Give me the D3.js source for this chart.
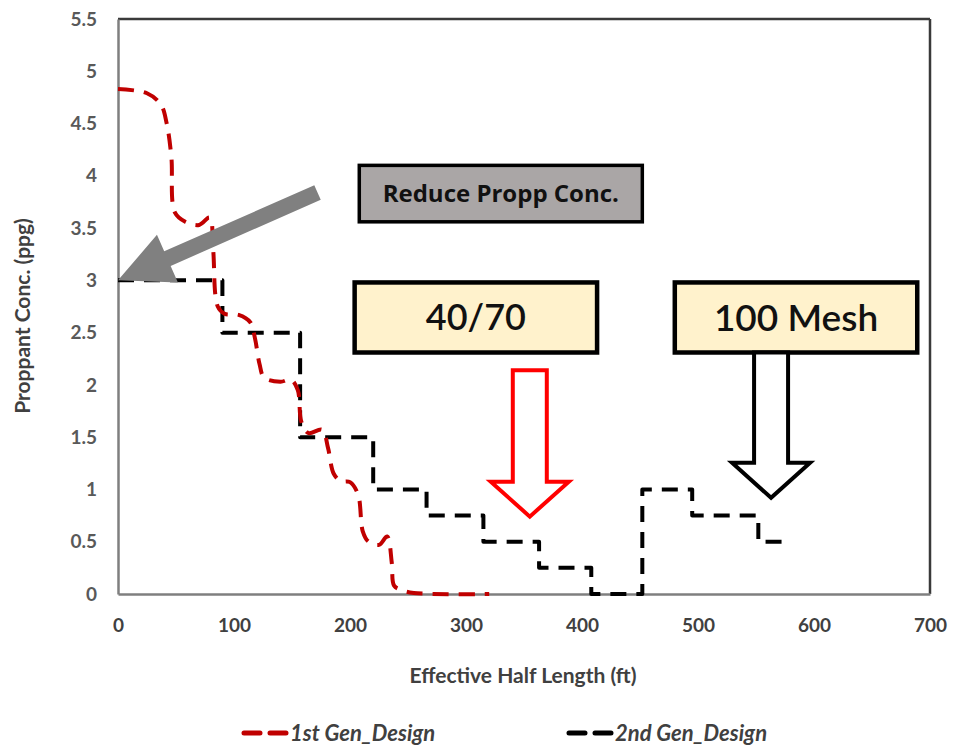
<!DOCTYPE html>
<html>
<head>
<meta charset="utf-8">
<script src="https://cdn.jsdelivr.net/npm/d3@7"></script>
<style>
  html, body { margin: 0; padding: 0; background: #fff; }
  svg { display: block; }
</style>
</head>
<body>
<svg id="chart" width="956" height="746"></svg>
<script>
// ---- data ----
// 1st generation design: proppant concentration along the fracture (smoothed line)
const gen1X = [0, 25, 37, 42, 46, 49, 58, 70, 79, 82, 86, 92, 104, 114, 118, 122, 126, 140, 149, 155, 158, 164, 176, 181, 186, 192, 200, 207, 211, 216, 225, 232, 236, 238, 244, 255, 320];
const gen1Y = [4.83, 4.79, 4.68, 4.5, 4.18, 3.65, 3.56, 3.53, 3.6, 3.3, 2.75, 2.68, 2.67, 2.6, 2.45, 2.2, 2.07, 2.03, 2.05, 1.95, 1.65, 1.54, 1.57, 1.4, 1.15, 1.08, 1.07, 0.95, 0.6, 0.5, 0.47, 0.55, 0.3, 0.08, 0.04, 0.01, 0];

// 2nd generation design: stepped schedule
const gen2X = [0, 90, 90, 157, 157, 220, 220, 266, 266, 315, 315, 363, 363, 408, 408, 452, 452, 495, 495, 552, 552, 580];
const gen2Y = [3, 3, 2.5, 2.5, 1.5, 1.5, 1, 1, 0.75, 0.75, 0.5, 0.5, 0.25, 0.25, 0, 0, 1, 1, 0.75, 0.75, 0.5, 0.5];

const xTicks = [0, 100, 200, 300, 400, 500, 600, 700];
const yTicks = [0, 0.5, 1, 1.5, 2, 2.5, 3, 3.5, 4, 4.5, 5, 5.5];
const seriesNames = ["1st Gen_Design", "2nd Gen_Design"];

// callouts, positioned in data units
const noteLabels = ["Reduce Propp Conc.", "40/70", "100 Mesh"];
const noteBoxX = [[208, 452], [204, 413], [480, 689]];     // ft
const noteBoxY = [[4.1, 3.56], [2.98, 2.31], [2.98, 2.31]]; // ppg
const reduceArrowFrom = [172, 3.84];
const reduceArrowTo = [0, 3.0];
const hollowArrowX = [355, 563];          // ft, arrow centre line
const hollowArrowTop = [2.14, 2.31];      // ppg
const hollowArrowTip = [0.74, 0.92];      // ppg
const hollowArrowColors = ["#ff0000", "#000000"];

// ---- layout ----
const svg = d3.select("#chart");
const plotL = 118, plotR = 930, plotT = 19, plotB = 594;

const x = d3.scaleLinear().domain([0, 700]).range([plotL, plotR]);
const y = d3.scaleLinear().domain([0, 5.5]).range([plotB, plotT]);

const tickFont = "Lato, 'Open Sans', sans-serif";

// frame
svg.append("line").attr("x1", plotL).attr("x2", plotR).attr("y1", plotT).attr("y2", plotT)
  .attr("stroke", "#3a3a3a").attr("stroke-width", 2.5);
svg.append("line").attr("x1", plotR).attr("x2", plotR).attr("y1", plotT).attr("y2", plotB)
  .attr("stroke", "#3a3a3a").attr("stroke-width", 2.5);

// axes
const xAxis = d3.axisBottom(x).tickValues(xTicks).tickSize(0).tickPadding(25).tickFormat(d3.format("d"));
const yAxis = d3.axisLeft(y).tickValues(yTicks).tickSize(0).tickPadding(21).tickFormat(d => String(d));

const gx = svg.append("g").attr("transform", `translate(0,${plotB})`).call(xAxis);
gx.select(".domain").attr("stroke", "#7f7f7f").attr("stroke-width", 2.5);
gx.selectAll("text").attr("font-family", tickFont).attr("font-weight", 700)
  .attr("font-size", 19).attr("fill", "#404040");

const gy = svg.append("g").attr("transform", `translate(${plotL},0)`).call(yAxis);
gy.select(".domain").attr("stroke", "#7f7f7f").attr("stroke-width", 2.5);
gy.selectAll("text").attr("font-family", tickFont).attr("font-weight", 700)
  .attr("font-size", 19).attr("fill", "#595959");

// axis titles
svg.append("text").attr("x", 523).attr("y", 683)
  .attr("text-anchor", "middle").attr("font-family", tickFont).attr("font-weight", 700)
  .attr("font-size", 21).attr("fill", "#404040").text("Effective Half Length (ft)");
svg.append("text").attr("transform", `translate(30,316) rotate(-90)`)
  .attr("text-anchor", "middle").attr("font-family", tickFont).attr("font-weight", 700)
  .attr("font-size", 21).attr("fill", "#404040").text("Proppant Conc. (ppg)");

// series
const gen1 = gen1X.map((d, i) => [d, gen1Y[i]]);
const gen2 = gen2X.map((d, i) => [d, gen2Y[i]]);

const smooth = d3.line().x(d => x(d[0])).y(d => y(d[1])).curve(d3.curveCatmullRom.alpha(0.5));
const stepped = d3.line().x(d => x(d[0])).y(d => y(d[1]));

svg.append("path").attr("d", stepped(gen2)).attr("fill", "none")
  .attr("stroke", "#000").attr("stroke-width", 4).attr("stroke-dasharray", "16,10")
  .attr("stroke-linejoin", "round");
svg.append("path").attr("d", smooth(gen1)).attr("fill", "none")
  .attr("stroke", "#c00000").attr("stroke-width", 4).attr("stroke-dasharray", "16,10")
  .attr("stroke-linejoin", "round");

// gray arrow toward the reduced starting concentration
(function () {
  const x0 = x(reduceArrowFrom[0]), y0 = y(reduceArrowFrom[1]);
  const x1 = x(reduceArrowTo[0]), y1 = y(reduceArrowTo[1]);
  const len = Math.hypot(x1 - x0, y1 - y0);
  const ang = Math.atan2(y1 - y0, x1 - x0) * 180 / Math.PI;
  const sw = 8, hw = 26, hl = 54;
  const pts = [[0, -sw], [len - hl, -sw], [len - hl, -hw], [len, 0], [len - hl, hw], [len - hl, sw], [0, sw]];
  svg.append("polygon").attr("points", pts.map(p => p.join(",")).join(" "))
    .attr("fill", "#808080")
    .attr("transform", `translate(${x0},${y0}) rotate(${ang})`);
})();

// callout boxes
const boxFills = ["#aaa6a6", "#fff2cc", "#fff2cc"];
const boxSizes = [24, 36, 37];
const boxWeights = [700, 600, 600];
const boxFonts = ["'Open Sans', Lato, sans-serif", "Lato, 'Open Sans', sans-serif", "Lato, 'Open Sans', sans-serif"];
noteLabels.forEach((t, i) => {
  const bx0 = x(noteBoxX[i][0]), bx1 = x(noteBoxX[i][1]);
  const by0 = y(noteBoxY[i][0]), by1 = y(noteBoxY[i][1]);
  svg.append("rect").attr("x", bx0).attr("y", by0).attr("width", bx1 - bx0).attr("height", by1 - by0)
    .attr("fill", boxFills[i]).attr("stroke", "#000").attr("stroke-width", i === 0 ? 3.5 : 4.5);
  svg.append("text").attr("x", (bx0 + bx1) / 2).attr("y", (by0 + by1) / 2)
    .attr("dy", "0.36em").attr("text-anchor", "middle")
    .attr("font-family", boxFonts[i]).attr("font-weight", boxWeights[i])
    .attr("font-size", boxSizes[i]).attr("fill", "#111").text(t);
});

// hollow block arrows under the sand labels
hollowArrowX.forEach((cx, i) => {
  const px = x(cx), yTop = y(hollowArrowTop[i]), yTip = y(hollowArrowTip[i]);
  const sw = 17, hw = 39, hl = 35;
  const pts = [[px - sw, yTop], [px + sw, yTop], [px + sw, yTip - hl], [px + hw, yTip - hl],
               [px, yTip], [px - hw, yTip - hl], [px - sw, yTip - hl]];
  svg.append("polygon").attr("points", pts.map(p => p.join(",")).join(" "))
    .attr("fill", "#fff").attr("stroke", hollowArrowColors[i]).attr("stroke-width", 4);
});

// legend
const legendX = [242, 567];
const legendColors = ["#c00000", "#000"];
seriesNames.forEach((n, i) => {
  const lx = legendX[i], ly = 733;
  svg.append("line").attr("x1", lx + 2).attr("x2", lx + 45).attr("y1", ly).attr("y2", ly)
    .attr("stroke", legendColors[i]).attr("stroke-width", 5).attr("stroke-dasharray", "16,10")
    .attr("stroke-linecap", "round");
  svg.append("text").attr("x", lx + 48).attr("y", ly).attr("dy", "0.35em")
    .attr("font-family", tickFont).attr("font-style", "italic").attr("font-weight", 700)
    .attr("font-size", 22).attr("fill", "#404040").text(n);
});
</script>
</body>
</html>
